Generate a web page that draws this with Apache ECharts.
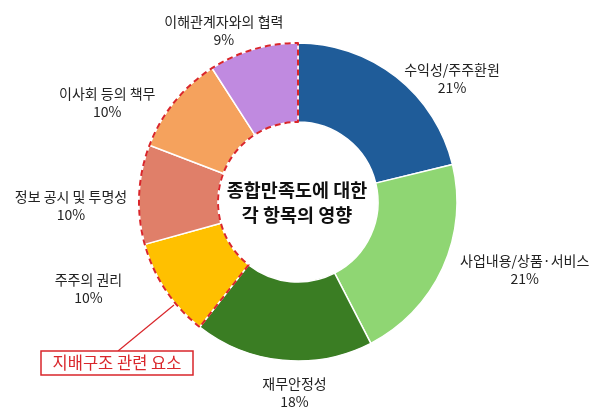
<!DOCTYPE html>
<html>
<head>
<meta charset="utf-8">
<script src="https://cdn.jsdelivr.net/npm/echarts@6/dist/echarts.min.js"></script>
<style>
  html, body { margin: 0; padding: 0; background: #fff; }
  #chart { width: 600px; height: 410px; }
</style>
</head>
<body>
<div id="chart"></div>
<script>
// 항목별 영향 (%)
var categories = ['수익성/주주환원', '사업내용/상품·서비스', '재무안정성', '주주의 권리', '정보 공시 및 투명성', '이사회 등의 책무', '이해관계자와의 협력'];
var values = [21, 21, 18, 10, 10, 10, 9];
var colors = ['#1f5c99', '#8fd673', '#3a7d23', '#ffc000', '#e07f69', '#f5a25d', '#c08ae0'];
// 지배구조 관련 요소 = 뒤쪽 4개 항목
var governanceFrom = 3;

// 라벨 위치 미세조정 (px)
var labelShift = [[-4, 13], [2, -4], [49, 18], [-28, -9], [5, 12], [-5, 10], [37, -5]];

var chart = echarts.init(document.getElementById('chart'), null, {renderer: 'canvas'});

var pieData = categories.map(function (name, i) {
    return {name: name, value: values[i], itemStyle: {color: colors[i]}};
});

// 지배구조 영역 합계 (점선 테두리용)
var otherSum = 0, govSum = 0;
values.forEach(function (v, i) {
    if (i < governanceFrom) otherSum += v; else govSum += v;
});

var option = {
    animation: false,
    textStyle: {fontFamily: '"Noto Sans CJK KR", "Noto Sans", sans-serif'},
    series: [
        {
            type: 'pie',
            center: [298, 202],
            radius: [80, 159],
            startAngle: 90,
            clockwise: true,
            data: pieData,
            itemStyle: {borderColor: '#fff', borderWidth: 1.5},
            label: {
                show: true,
                position: 'outside',
                formatter: '{b}\n{c}%',
                fontSize: 13.5,
                lineHeight: 18,
                color: '#222'
            },
            labelLine: {show: false, length: 14, length2: 0},
            labelLayout: function (params) {
                var r = params.labelRect;
                var s = labelShift[params.dataIndex];
                return {
                    x: r.x + r.width / 2 + s[0],
                    y: r.y + r.height / 2 + s[1],
                    align: 'center',
                    verticalAlign: 'middle',
                    fontSize: 14
                };
            },
            emphasis: {disabled: true}
        },
        {
            type: 'pie',
            silent: true,
            center: [298, 202],
            radius: [80, 159],
            startAngle: 90,
            clockwise: true,
            label: {show: false},
            labelLine: {show: false},
            data: [
                {value: otherSum, itemStyle: {color: 'transparent', borderWidth: 0}},
                {value: govSum, itemStyle: {color: 'transparent', borderColor: '#d9262b', borderWidth: 2, borderType: [6, 4]}}
            ],
            z: 5
        }
    ],
    graphic: [
        {
            type: 'text',
            style: {
                text: '종합만족도에 대한\n각 항목의 영향',
                x: 297, y: 202,
                align: 'center',
                verticalAlign: 'middle',
                lineHeight: 25,
                fill: '#111',
                font: 'bold 18.5px "Noto Sans CJK KR", sans-serif'
            }
        },
        {
            type: 'line',
            shape: {x1: 118, y1: 351, x2: 174, y2: 305},
            style: {stroke: '#d9262b', lineWidth: 1.2}
        },
        {
            type: 'rect',
            shape: {x: 41, y: 351, width: 152, height: 24},
            style: {fill: '#fff', stroke: '#d9262b', lineWidth: 1.5}
        },
        {
            type: 'text',
            style: {
                text: '지배구조 관련 요소',
                x: 117, y: 363,
                align: 'center',
                verticalAlign: 'middle',
                fill: '#d9262b',
                font: '16.5px "Noto Sans CJK KR", sans-serif'
            }
        }
    ]
};

chart.setOption(option);
</script>
</body>
</html>
